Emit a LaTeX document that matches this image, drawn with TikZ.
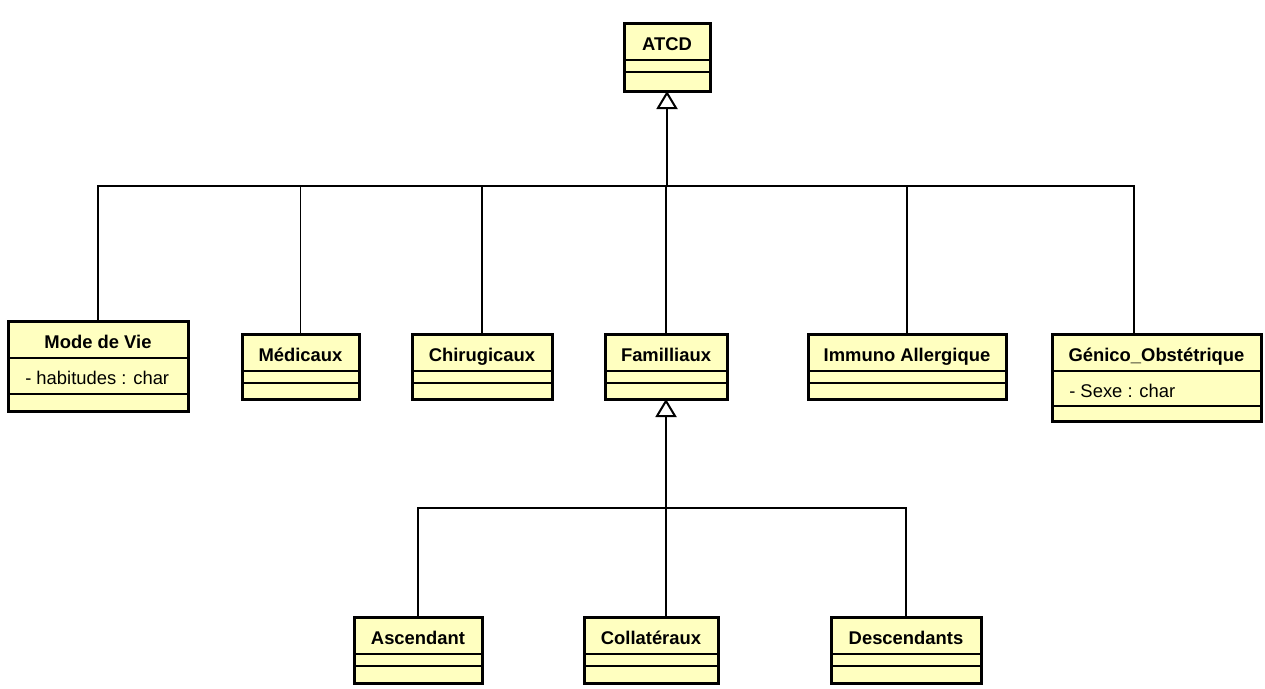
\documentclass[tikz,border=0pt]{standalone}
\usepackage{fontspec}
\setmainfont{Liberation Sans}
\usetikzlibrary{arrows.meta, calc, fit}
\definecolor{jauneUML}{HTML}{FFFFC0}
\tikzset{
  classe/.style={draw, line width=2.25pt, fill=jauneUML, inner sep=0pt, outer sep=0pt},
  titre/.style={anchor=base, font=\fontsize{13.8}{16}\selectfont\bfseries, inner sep=0pt},
  attribut/.style={anchor=base west, font=\fontsize{13.8}{16}\selectfont, inner sep=0pt},
  separation/.style={line width=0.9pt},
  lien/.style={line width=0.9pt},
  heritage/.style={line width=1.5pt, -{Triangle[open, length=13.5pt, width=15.75pt]}}
}
% #1 nom, #2-#5 gauche haut droite bas, #6 hauteur attributs, #7 titre, #8 attribut
\newcommand{\classe}[8]{
  \node[classe, fit={(#2,#3) (#4,#5)}] (#1) {};
  \node[titre] (#1-titre) at ($(#1.north)+(0,27.5)$) {#7};
  \draw[separation] ($(#1.north west)+(0,37)$) -- ($(#1.north east)+(0,37)$);
  \draw[separation] ($(#1.north west)+(0,37+#6)$) -- ($(#1.north east)+(0,37+#6)$);
  \if\relax\detokenize{#8}\relax\else
    \node[attribut] (#1-attr) at ($(#1.north west)+(17,63)$) {#8};
  \fi
}

\begin{document}
\begin{tikzpicture}[x=0.75pt, y=-0.75pt]
    \useasboundingbox (0,0) rectangle (1265,689);
    % Classes
    \classe{atcd}{624}{23}{710}{91}{12}{ATCD}{}
    \classe{mode}{8}{321}{188}{411}{36}{Mode de Vie}{- habitudes : char}
    \classe{medicaux}{242}{334}{359}{399}{12}{Médicaux}{}
    \classe{chirurg}{412}{334}{552}{399}{12}{Chirugicaux}{}
    \classe{familliaux}{605}{334}{727}{399}{12}{Familliaux}{}
    \classe{immuno}{808}{334}{1006}{399}{12}{Immuno Allergique}{}
    \classe{genico}{1052}{334}{1261}{421}{35}{Génico\_Obstétrique}{- Sexe : char}
    \classe{ascendant}{354}{617}{482}{683}{12}{Ascendant}{}
    \classe{collateraux}{584}{617}{718}{683}{12}{Collatéraux}{}
    \classe{descendants}{831}{617}{981}{683}{12}{Descendants}{}
    % Heritage ATCD
    \coordinate (barre) at (667,186);
    \draw[heritage] (barre) -- (atcd.south);
    \draw[lien] (mode.north) |- (barre);
    \draw[lien] (medicaux.north) |- (barre);
    \draw[lien] (chirurg.north) |- (barre);
    \draw[lien] (familliaux.north) |- (barre);
    \draw[lien] (immuno.north) |- (barre);
    \draw[lien] ($(genico.north west)+(82,0)$) |- (barre);
    % Heritage Familliaux
    \coordinate (barre2) at (666,508);
    \draw[heritage] (barre2) -- (familliaux.south);
    \draw[lien] (ascendant.north) |- (barre2);
    \draw[lien] (barre2) -- (barre2 |- collateraux.north);
    \draw[lien] (descendants.north) |- (barre2);
\end{tikzpicture}
\end{document}
